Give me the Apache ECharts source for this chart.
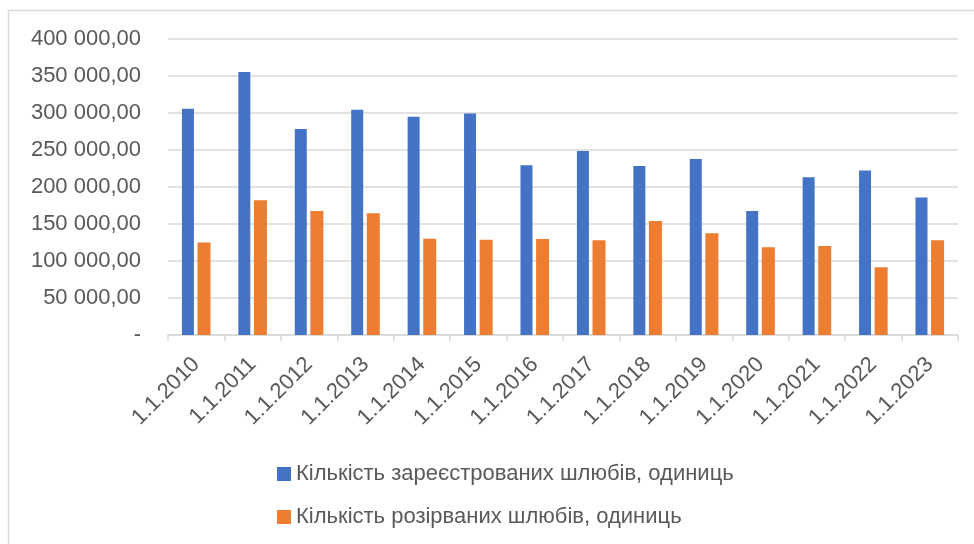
<!DOCTYPE html>
<html>
<head>
<meta charset="utf-8">
<script src="https://cdn.jsdelivr.net/npm/echarts@6/dist/echarts.min.js"></script>
<style>
  html, body { margin: 0; padding: 0; background: #fff; }
  #chart { width: 974px; height: 544px; }
</style>
</head>
<body>
<div id="chart"></div>
<script>
// data
const categories = ['1.1.2010', '1.1.2011', '1.1.2012', '1.1.2013', '1.1.2014', '1.1.2015', '1.1.2016',
  '1.1.2017', '1.1.2018', '1.1.2019', '1.1.2020', '1.1.2021', '1.1.2022', '1.1.2023']
const registered = [305500, 355000, 278000, 304000, 294500, 299000, 229000,
  248500, 228000, 237500, 167500, 213000, 222000, 185500]
const divorced = [125000, 182000, 167500, 164500, 130000, 128500, 129500,
  128000, 154000, 137500, 118500, 120000, 91500, 128000]
const seriesNames = ['Кількість зареєстрованих шлюбів, одиниць', 'Кількість розірваних шлюбів, одиниць']
const yTicks = [0, 50000, 100000, 150000, 200000, 250000, 300000, 350000, 400000]

const font = '"Liberation Sans", "DejaVu Sans", sans-serif'
const gray = '#595959'

function fmt(v) {
  if (v === 0) return '-'
  return String(v).replace(/\B(?=(\d{3})+(?!\d))/g, ' ') + ',00'
}

const chart = echarts.init(document.getElementById('chart'))
chart.setOption({
  animation: false,
  textStyle: { fontFamily: font },
  graphic: [{
    type: 'rect',
    shape: { x: 8.5, y: 10.5, width: 1000, height: 600 },
    style: { fill: 'none', stroke: '#d9d9d9', lineWidth: 1.5 },
    silent: true
  }],
  grid: { left: 168, right: 16, top: 38.7, bottom: 209, containLabel: false },
  legend: {
    orient: 'vertical',
    left: 272,
    top: 458,
    itemWidth: 14,
    itemHeight: 14,
    itemGap: 21,
    icon: 'rect',
    textStyle: { fontSize: 22, color: gray, fontFamily: font },
    data: seriesNames
  },
  xAxis: {
    type: 'category',
    data: categories,
    axisLine: { lineStyle: { color: '#d9d9d9', width: 1.5 } },
    axisTick: { show: true, length: 6, lineStyle: { color: '#d9d9d9', width: 1.5 } },
    axisLabel: { rotate: 45, fontSize: 22, color: gray, margin: 26, interval: 0 }
  },
  yAxis: {
    type: 'value',
    min: yTicks[0],
    max: yTicks[yTicks.length - 1],
    interval: yTicks[1] - yTicks[0],
    axisLine: { show: false },
    axisTick: { show: false },
    splitLine: { lineStyle: { color: '#d9d9d9', width: 1.5 } },
    axisLabel: { fontSize: 22, color: gray, margin: 27, formatter: fmt }
  },
  series: [
    {
      name: seriesNames[0],
      type: 'bar',
      data: registered,
      barWidth: 12,
      barGap: '30%',
      itemStyle: { color: '#4472c4' }
    },
    {
      name: seriesNames[1],
      type: 'bar',
      data: divorced,
      barWidth: 13,
      itemStyle: { color: '#ed7d31' }
    }
  ]
})
</script>
</body>
</html>
